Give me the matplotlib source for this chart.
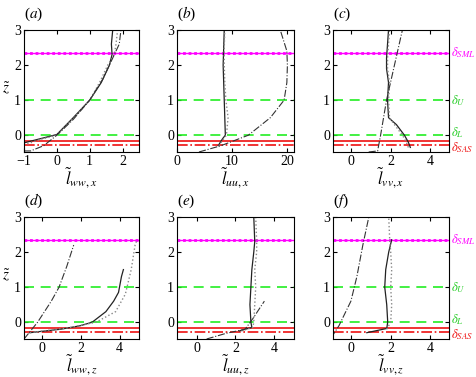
import numpy as np
import matplotlib
matplotlib.use("Agg")
import matplotlib.pyplot as plt

plt.rcParams['font.family'] = ['Liberation Serif', 'DejaVu Serif']
plt.rcParams['mathtext.fontset'] = 'stix'

# reference heights
z_sml = 2.35
z_u = 1.0
z_l = 0.0
z_sas_solid = -0.17
z_sas_dashdot = -0.285

# (a) l_ww,x
a_solid_x = [-1.0, -0.5, 0.0, 0.5, 1.0, 1.35, 1.6, 1.68, 1.66, 1.7]
a_solid_z = [-0.22, -0.1, 0.02, 0.5, 1.0, 1.5, 2.0, 2.3, 2.6, 3.0]
a_dot_x = [-0.9, -0.5, 0.0, 0.5, 1.0, 1.3, 1.55, 1.75, 1.8, 1.85]
a_dot_z = [-0.25, -0.12, 0.0, 0.48, 1.0, 1.5, 2.0, 2.3, 2.6, 3.0]
a_dd_x = [-1.0, -0.8, -0.4, 0.0, 0.5, 1.0, 1.4, 1.7, 1.9, 1.95]
a_dd_z = [-0.45, -0.45, -0.3, 0.0, 0.45, 1.0, 1.6, 2.2, 2.6, 3.0]

# (b) l_uu,x
b_solid_x = [7.5, 8.3, 8.8, 8.7, 8.6, 8.5, 8.4, 8.5, 8.6]
b_solid_z = [-0.3, -0.1, 0.0, 0.5, 1.0, 1.5, 2.0, 2.5, 3.0]
b_dot_x = [7.6, 8.5, 9.0, 9.3, 8.9, 8.7, 8.6, 8.6, 8.7]
b_dot_z = [-0.3, -0.1, 0.0, 0.5, 1.0, 1.5, 2.0, 2.5, 3.0]
b_dd_x = [4.0, 8.0, 10.5, 13.0, 17.0, 19.5, 20.0, 20.1, 20.0, 18.8]
b_dd_z = [-0.48, -0.3, -0.15, 0.0, 0.5, 1.0, 1.5, 2.0, 2.4, 3.0]

# (c) l_vv,x
c_solid_x = [3.0, 2.9, 2.7, 2.3, 1.9, 1.85, 1.9, 1.8, 1.8, 1.85, 1.9]
c_solid_z = [-0.35, -0.2, 0.0, 0.3, 0.5, 1.0, 1.5, 1.9, 2.2, 2.6, 3.0]
c_dot_x = [2.9, 2.8, 2.6, 2.2, 1.95, 1.9, 1.95, 1.85, 1.85, 1.9, 1.95]
c_dot_z = [-0.35, -0.2, 0.0, 0.3, 0.5, 1.0, 1.5, 1.9, 2.2, 2.6, 3.0]
c_dd_x = [0.9, 1.35, 1.4, 1.5, 1.65, 1.8, 2.0, 2.2, 2.4, 2.6]
c_dd_z = [-0.48, -0.45, -0.3, 0.0, 0.5, 1.0, 1.5, 2.0, 2.5, 3.0]

# (d) l_ww,z
d_solid_x = [-0.6, 1.0, 2.0, 2.6, 3.3, 3.7, 3.95, 4.0, 4.1, 4.2]
d_solid_z = [-0.3, -0.2, -0.1, 0.0, 0.3, 0.6, 0.85, 1.0, 1.3, 1.5]
d_dot_x = [-0.6, 1.5, 2.8, 3.8, 4.3, 4.6, 4.8, 4.9]
d_dot_z = [-0.3, -0.15, 0.0, 0.3, 0.8, 1.5, 2.2, 2.35]
d_dd_x = [-0.9, -0.2, 0.5, 0.9, 1.3, 1.65]
d_dd_z = [-0.48, 0.0, 0.6, 1.0, 1.6, 2.2]

# (e) l_uu,z
e_solid_x = [2.2, 2.85, 2.8, 2.75, 2.8, 2.85, 2.95, 3.0, 2.95]
e_solid_z = [-0.25, -0.15, 0.0, 0.5, 1.0, 1.5, 2.0, 2.3, 3.0]
e_dot_x = [2.3, 2.9, 2.95, 3.0, 3.05, 3.0, 3.1, 3.1, 3.05]
e_dot_z = [-0.25, -0.15, 0.0, 0.5, 1.0, 1.5, 2.0, 2.3, 3.0]
e_dd_x = [0.5, 1.5, 2.5, 2.9, 3.2, 3.5]
e_dd_z = [-0.48, -0.32, -0.2, 0.1, 0.35, 0.6]

# (f) l_vv,z
f_solid_x = [0.8, 1.8, 1.85, 1.8, 1.7, 1.75, 1.9, 2.05]
f_solid_z = [-0.3, -0.18, 0.0, 0.5, 1.0, 1.5, 2.0, 2.35]
f_dot_x = [1.8, 2.0, 2.05, 2.0, 2.05, 2.0, 1.95, 1.9]
f_dot_z = [-0.2, 0.0, 0.5, 1.0, 1.5, 2.0, 2.35, 3.0]
f_dd_x = [-1.0, -0.6, 0.0, 0.3, 0.6, 0.9]
f_dd_z = [-0.45, -0.1, 0.6, 1.3, 2.2, 3.0]

panels = [
    ('a', r'$\tilde{l}_{ww,x}$', (-1, 2.5), [-1, 0, 1, 2],
     (a_solid_x, a_solid_z), (a_dot_x, a_dot_z), (a_dd_x, a_dd_z)),
    ('b', r'$\tilde{l}_{uu,x}$', (0, 21.3), [0, 10, 20],
     (b_solid_x, b_solid_z), (b_dot_x, b_dot_z), (b_dd_x, b_dd_z)),
    ('c', r'$\tilde{l}_{vv,x}$', (-0.9, 4.95), [0, 2, 4],
     (c_solid_x, c_solid_z), (c_dot_x, c_dot_z), (c_dd_x, c_dd_z)),
    ('d', r'$\tilde{l}_{ww,z}$', (-0.9, 5.0), [0, 2, 4],
     (d_solid_x, d_solid_z), (d_dot_x, d_dot_z), (d_dd_x, d_dd_z)),
    ('e', r'$\tilde{l}_{uu,z}$', (-1.04, 5.04), [0, 2, 4],
     (e_solid_x, e_solid_z), (e_dot_x, e_dot_z), (e_dd_x, e_dd_z)),
    ('f', r'$\tilde{l}_{vv,z}$', (-0.9, 4.93), [0, 2, 4],
     (f_solid_x, f_solid_z), (f_dot_x, f_dot_z), (f_dd_x, f_dd_z)),
]

W, H = 477, 377
fig = plt.figure(figsize=(W / 100, H / 100), dpi=100)

lefts = [24, 177, 333]
widths = [115, 117, 116]
tops = [30, 217]
ax_h = 122

green = '#22ee22'
red = '#ee1111'
magenta = '#ff00ff'

for k, (tag, xlab, xlim, xt, sol, dot, dd) in enumerate(panels):
    row, col = divmod(k, 3)
    ax = fig.add_axes([lefts[col] / W, (H - tops[row] - ax_h) / H,
                       widths[col] / W, ax_h / H])
    ax.axhline(z_sml, color=magenta, lw=1.0)
    ax.axhline(z_sml, color=magenta, lw=2.0, ls=(0, (1, 1)))
    ax.axhline(z_u, color=green, lw=1.2, ls=(0, (6, 4)))
    ax.axhline(z_l, color=green, lw=1.2, ls=(0, (6, 4)))
    ax.axhline(z_sas_solid, color=red, lw=1.2)
    ax.axhline(z_sas_dashdot, color=red, lw=1.2, ls='-.')

    ax.plot(sol[0], sol[1], color='#222222', lw=0.9)
    ax.plot(dot[0], dot[1], color='#888888', lw=1.0, ls=':')
    ax.plot(dd[0], dd[1], color='#333333', lw=0.8, ls='-.')

    ax.set_xlim(*xlim)
    ax.set_ylim(-0.48, 3)
    ax.set_xticks(xt)
    ax.set_yticks([0, 1, 2, 3])
    ax.tick_params(direction='in', top=True, right=True, length=3,
                   labelsize=10, pad=2)
    ax.set_xlabel(xlab, fontsize=12, labelpad=-1)
    if col == 0:
        ax.set_ylabel(r'$\tilde{z}$', fontsize=11, rotation=0, labelpad=6)
        ax.yaxis.set_label_coords(-0.15, 0.45)
    ax.text(0.0, 1.06, '($%s$)' % tag, transform=ax.transAxes, fontsize=11,
            ha='left', va='bottom')
    if col == 2:
        tr = ax.get_yaxis_transform()
        ax.text(1.02, z_sml, r'$\delta_{SML}$', color=magenta, transform=tr,
                fontsize=9, va='center')
        ax.text(1.02, z_u, r'$\delta_{U}$', color='#22cc22', transform=tr,
                fontsize=9, va='center')
        ax.text(1.02, z_l + 0.06, r'$\delta_{L}$', color='#22cc22', transform=tr,
                fontsize=9, va='center')
        ax.text(1.02, -0.35, r'$\delta_{SAS}$', color=red, transform=tr,
                fontsize=9, va='center')

fig.savefig('out.png', dpi=100)
